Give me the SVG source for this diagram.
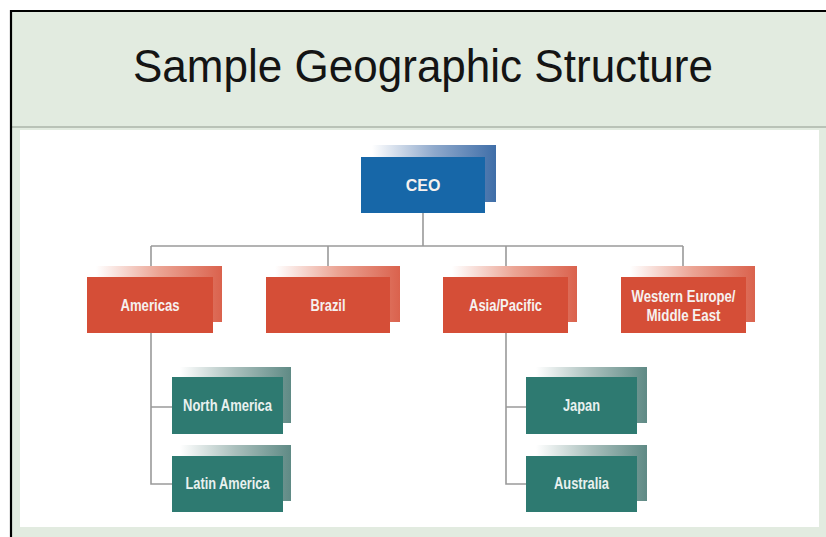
<svg xmlns="http://www.w3.org/2000/svg" width="826" height="537" viewBox="0 0 826 537">
<defs>
<linearGradient id="gBlue" x1="0" y1="0" x2="1" y2="0">
<stop offset="0" stop-color="#ffffff"/>
<stop offset="0.5" stop-color="#8fa9cc"/>
<stop offset="1" stop-color="#3f6ea8"/>
</linearGradient>
<linearGradient id="gRed" x1="0" y1="0" x2="1" y2="0">
<stop offset="0" stop-color="#ffffff"/>
<stop offset="0.5" stop-color="#eba494"/>
<stop offset="1" stop-color="#da624d"/>
</linearGradient>
<linearGradient id="gTeal" x1="0" y1="0" x2="1" y2="0">
<stop offset="0" stop-color="#ffffff"/>
<stop offset="0.5" stop-color="#a9bfbc"/>
<stop offset="1" stop-color="#5f8a85"/>
</linearGradient>
<style>
.blue{fill:#1767a8}
.red{fill:#d54e37}
.teal{fill:#2e7a71}
.lbl{font-family:"Liberation Sans Narrow","Liberation Sans",Arial,sans-serif;font-stretch:condensed;font-weight:bold;font-size:16px;fill:#f6f1ef;text-anchor:middle}
.tlbl{fill:#e9f1ef}
.conn{stroke:#9a9a9a;stroke-width:1.6;fill:none}
</style>
</defs>
<rect x="0" y="0" width="826" height="537" fill="#ffffff"/>
<rect x="11" y="11" width="815" height="526" fill="#e2ebe0"/>
<rect x="20" y="130" width="799" height="397" fill="#ffffff"/>
<line x1="12" y1="127" x2="826" y2="127" stroke="#b9c2b7" stroke-width="2"/>
<path d="M11,537 V11 H826" fill="none" stroke="#000" stroke-width="2.2"/>
<text x="423" y="82" font-family="'Liberation Sans',Arial,sans-serif" font-size="47" fill="#141414" text-anchor="middle" textLength="580" lengthAdjust="spacingAndGlyphs">Sample Geographic Structure</text>

<g id="connectors">
<path class="conn" d="M423,213 V246 M151,246 H683 M151,246 V277 M328,246 V277 M506,246 V277 M683,246 V277"/>
<path class="conn" d="M151,333 V484 H172 M151,407 H172"/>
<path class="conn" d="M506,333 V484 H526 M506,407 H526"/>
</g>

<g id="ceo">
<rect x="372" y="145" width="124" height="57" fill="url(#gBlue)"/>
<rect class="blue" x="361" y="157" width="124" height="56"/>
<text class="lbl" x="423" y="191">CEO</text>
</g>

<g id="americas">
<rect x="96" y="266" width="126" height="56" fill="url(#gRed)"/>
<rect class="red" x="87" y="277" width="126" height="56"/>
<text class="lbl" x="150" y="311" textLength="59" lengthAdjust="spacingAndGlyphs">Americas</text>
</g>

<g id="brazil">
<rect x="275" y="266" width="125" height="56" fill="url(#gRed)"/>
<rect class="red" x="266" y="277" width="124" height="56"/>
<text class="lbl" x="328" y="311" textLength="35" lengthAdjust="spacingAndGlyphs">Brazil</text>
</g>

<g id="asia-pacific">
<rect x="452" y="266" width="125" height="56" fill="url(#gRed)"/>
<rect class="red" x="443" y="277" width="125" height="56"/>
<text class="lbl" x="505.5" y="311" textLength="73" lengthAdjust="spacingAndGlyphs">Asia/Pacific</text>
</g>

<g id="western-europe">
<rect x="630" y="266" width="125" height="56" fill="url(#gRed)"/>
<rect class="red" x="621" y="277" width="125" height="56"/>
<text class="lbl" x="683.5" y="302" textLength="104" lengthAdjust="spacingAndGlyphs">Western Europe/</text>
<text class="lbl" x="683.5" y="321" textLength="74" lengthAdjust="spacingAndGlyphs">Middle East</text>
</g>

<g id="north-america">
<rect x="180" y="367" width="111" height="56" fill="url(#gTeal)"/>
<rect class="teal" x="172" y="377" width="111" height="57"/>
<text class="lbl tlbl" x="227.5" y="411" textLength="89" lengthAdjust="spacingAndGlyphs">North America</text>
</g>

<g id="latin-america">
<rect x="180" y="445" width="111" height="56" fill="url(#gTeal)"/>
<rect class="teal" x="172" y="456" width="111" height="56"/>
<text class="lbl tlbl" x="227.5" y="489" textLength="84" lengthAdjust="spacingAndGlyphs">Latin America</text>
</g>

<g id="japan">
<rect x="536" y="367" width="111" height="56" fill="url(#gTeal)"/>
<rect class="teal" x="526" y="377" width="111" height="57"/>
<text class="lbl tlbl" x="581.5" y="411" textLength="37" lengthAdjust="spacingAndGlyphs">Japan</text>
</g>

<g id="australia">
<rect x="536" y="445" width="111" height="56" fill="url(#gTeal)"/>
<rect class="teal" x="526" y="456" width="111" height="56"/>
<text class="lbl tlbl" x="581.5" y="489" textLength="55" lengthAdjust="spacingAndGlyphs">Australia</text>
</g>
</svg>
